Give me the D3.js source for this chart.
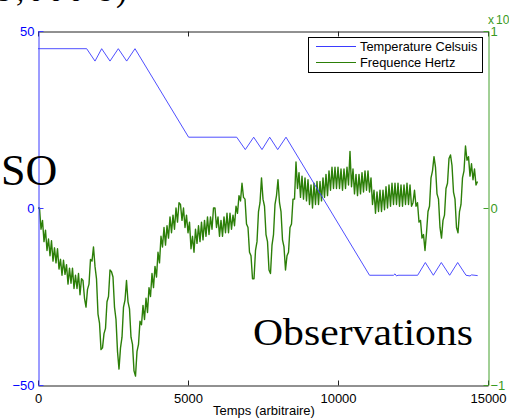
<!DOCTYPE html>
<html>
<head>
<meta charset="utf-8">
<script src="https://cdn.jsdelivr.net/npm/d3@7"></script>
<style>
  html, body { margin: 0; padding: 0; background: #fff; }
  svg { display: block; }
</style>
</head>
<body>
<svg id="chart" width="509" height="418"></svg>
<script>
// Axis ticks
const xTicks = [0, 5000, 10000, 15000];
const tempTicks = [-50, 0, 50];
const freqTicks = [-1, 0, 1];

// Temperature (Celsius): vertices of the set-point profile
const tempTime  = [0, 1622, 1900, 2122, 2400, 2677, 2956, 3233, 5020,
                   6623, 6910, 7190, 7467, 7723, 7990, 8267, 11050,
                   11850, 11900, 11950, 12000, 12655, 12911, 13178, 13444,
                   13722, 13989, 14267, 14400, 14450, 14656];
const tempValue = [45, 45, 41.5, 45, 41.5, 45, 41.5, 45, 20,
                   20, 16.5, 20, 16.5, 20, 16.5, 20, -19,
                   -19, -18.6, -19.2, -19, -19, -15.4, -19, -15.4,
                   -19, -15.4, -19, -19.2, -18.9, -19.1];

// Frequency (Hertz, x 10^4): one sample every 50 time units from t = 0
const freqStart = 0;
const freqStep = 50;
const freqValue = [
  0.00, 0.00, -0.12, -0.07, -0.19, -0.125, -0.24, -0.175, -0.27, -0.185,
  -0.30, -0.225, -0.31, -0.23, -0.345, -0.29, -0.38, -0.295, -0.375, -0.32,
  -0.43, -0.34, -0.425, -0.34, -0.455, -0.38, -0.455, -0.37, -0.49, -0.40,
  -0.41, -0.51, -0.56, -0.46, -0.43, -0.29, -0.30, -0.22, -0.33, -0.40,
  -0.60, -0.65, -0.80, -0.79, -0.71, -0.68, -0.53, -0.50, -0.35, -0.36,
  -0.39, -0.56, -0.63, -0.81, -0.91, -0.79, -0.73, -0.56, -0.52, -0.41,
  -0.53, -0.57, -0.73, -0.77, -0.92, -0.95, -0.81, -0.77, -0.64, -0.66,
  -0.55, -0.63, -0.51, -0.59, -0.45, -0.50, -0.37, -0.45, -0.33, -0.39,
  -0.25, -0.31, -0.16, -0.22, -0.11, -0.21, -0.10, -0.17, -0.05, -0.14,
  -0.04, -0.12, 0.00, -0.08, 0.03, 0.02, -0.07, 0.00, -0.11, -0.04,
  -0.14, -0.08, -0.23, -0.16, -0.25, -0.12, -0.20, -0.10, -0.19, -0.08,
  -0.18, -0.07, -0.16, -0.05, -0.15, -0.05, -0.12, 0.00, 0.00, -0.11,
  -0.05, -0.16, -0.07, -0.16, -0.05, -0.14, -0.03, -0.14, -0.03, -0.12,
  -0.04, -0.10, 0.01, -0.03, 0.07, 0.04, 0.14, 0.06, 0.05, -0.09,
  -0.11, -0.25, -0.27, -0.40, -0.40, -0.24, -0.19, -0.02, 0.03, 0.17,
  0.05, 0.01, -0.15, -0.19, -0.35, -0.37, -0.21, -0.15, 0.02, 0.07,
  0.16, 0.03, -0.02, -0.18, -0.22, -0.35, -0.27, -0.25, -0.11, -0.09,
  0.05, 0.05, 0.26, 0.11, 0.20, 0.06, 0.18, 0.05, 0.17, 0.04,
  0.16, 0.02, 0.13, 0.00, 0.14, 0.02, 0.15, 0.02, 0.15, 0.04,
  0.17, 0.06, 0.19, 0.07, 0.21, 0.10, 0.23, 0.11, 0.23, 0.11,
  0.23, 0.11, 0.22, 0.10, 0.22, 0.11, 0.23, 0.13, 0.32, 0.12,
  0.22, 0.08, 0.19, 0.07, 0.19, 0.08, 0.20, 0.09, 0.21, 0.10,
  0.21, 0.09, 0.17, 0.02, 0.10, -0.03, 0.09, -0.02, 0.10, -0.02,
  0.10, -0.01, 0.12, 0.00, 0.13, 0.01, 0.14, 0.02, 0.14, 0.02,
  0.14, 0.01, 0.13, 0.01, 0.13, 0.02, 0.14, 0.02, 0.13, 0.01,
  0.03, 0.10, 0.01, 0.03, -0.08, -0.07, -0.17, -0.15, -0.24, -0.14,
  -0.02, 0.01, 0.17, 0.21, 0.29, 0.23, 0.08, 0.05, -0.11, -0.17,
  -0.07, -0.04, 0.11, 0.14, 0.28, 0.30, 0.24, 0.09, 0.05, -0.11,
  -0.14, -0.02, 0.02, 0.17, 0.21, 0.35, 0.27, 0.29, 0.18, 0.25,
  0.16, 0.22, 0.13, 0.15
];

const seriesNames = ["Temperature Celsuis", "Frequence Hertz"];
const xLabel = "Temps (arbitraire)";

// ---- layout ----
const svg = d3.select("#chart");
const plot = { left: 38, right: 488, top: 31, bottom: 385 };
const BLUE = "#0000ff", BLUE_LINE = "#3b3bff";
const GREEN_LINE = "#2c7f08", GREEN_AXIS = "#45a02c", GREEN_TEXT = "#3a9a22";
const sans = "'Liberation Sans', Arial, Helvetica, sans-serif";
const serif = "'Liberation Serif', 'Times New Roman', serif";

svg.append("rect").attr("width", 509).attr("height", 418).attr("fill", "#fff");

const x = d3.scaleLinear().domain([0, 15000]).range([plot.left, plot.right]);
const yT = d3.scaleLinear().domain([-50, 50]).range([plot.bottom, plot.top]);
const yF = d3.scaleLinear().domain([-1, 1]).range([plot.bottom, plot.top]);

svg.append("clipPath").attr("id", "plotClip")
  .append("rect")
  .attr("x", plot.left).attr("y", plot.top)
  .attr("width", plot.right - plot.left).attr("height", plot.bottom - plot.top);

const data = svg.append("g").attr("clip-path", "url(#plotClip)");

// frequency trace
const freqPts = freqValue.map((v, i) => [freqStart + i * freqStep, v]);
data.append("path")
  .datum(freqPts)
  .attr("fill", "none")
  .attr("stroke", GREEN_LINE)
  .attr("stroke-width", 1.4)
  .attr("stroke-linejoin", "round")
  .attr("d", d3.line().x(d => x(d[0])).y(d => yF(d[1])));

// temperature profile
const tempPts = tempTime.map((t, i) => [t, tempValue[i]]);
data.append("path")
  .datum(tempPts)
  .attr("fill", "none")
  .attr("stroke", BLUE_LINE)
  .attr("stroke-width", 0.9)
  .attr("d", d3.line().x(d => x(d[0])).y(d => yT(d[1])));

// ---- axes ----
function styleAxis(g, color, textColor) {
  g.select(".domain").attr("stroke", color);
  g.selectAll(".tick line").attr("stroke", color);
  g.selectAll(".tick text")
    .attr("fill", textColor)
    .attr("font-family", sans)
    .attr("font-size", 13);
}

const xAxisBottom = svg.append("g")
  .attr("transform", `translate(0,${plot.bottom + 0.5})`)
  .call(d3.axisBottom(x).tickValues(xTicks).tickFormat(d3.format("d"))
        .tickSizeInner(-5).tickSizeOuter(0).tickPadding(8));
styleAxis(xAxisBottom, "#222", "#000");

const xAxisTop = svg.append("g")
  .attr("transform", `translate(0,${plot.top + 0.5})`)
  .call(d3.axisTop(x).tickValues(xTicks).tickFormat("")
        .tickSizeInner(-5).tickSizeOuter(0));
styleAxis(xAxisTop, "#222", "#000");

const yAxisLeft = svg.append("g")
  .attr("transform", `translate(${plot.left + 0.5},0)`)
  .call(d3.axisLeft(yT).tickValues(tempTicks).tickFormat(d3.format("d"))
        .tickSizeInner(-5).tickSizeOuter(0).tickPadding(4));
styleAxis(yAxisLeft, BLUE_LINE, BLUE);

const yAxisRight = svg.append("g")
  .attr("transform", `translate(${plot.right + 0.5},0)`)
  .call(d3.axisRight(yF).tickValues(freqTicks).tickFormat(d3.format("d"))
        .tickSizeInner(-5).tickSizeOuter(0).tickPadding(2));
styleAxis(yAxisRight, GREEN_AXIS, GREEN_TEXT);

// right-axis multiplier
const mult = svg.append("text")
  .attr("y", 24)
  .attr("fill", GREEN_TEXT)
  .attr("font-family", sans)
  .attr("font-size", 12);
mult.append("tspan").attr("x", 488).text("x");
mult.append("tspan").attr("x", 496).text("10");
mult.append("tspan").attr("dy", -5).attr("font-size", 9).text("4");

// x-axis title
svg.append("text")
  .attr("x", (plot.left + plot.right) / 2 + 1)
  .attr("y", 415)
  .attr("text-anchor", "middle")
  .attr("font-family", sans)
  .attr("font-size", 13)
  .attr("fill", "#000")
  .text(xLabel);

// ---- legend ----
const legend = svg.append("g");
legend.append("rect")
  .attr("x", 308.5).attr("y", 37.5).attr("width", 174).attr("height", 35)
  .attr("fill", "#fff").attr("stroke", "#000").attr("stroke-width", 1);
[[BLUE_LINE, 46], [GREEN_LINE, 62]].forEach(([c, yy], i) => {
  legend.append("line")
    .attr("x1", 316).attr("x2", 356).attr("y1", yy + 0.5).attr("y2", yy + 0.5)
    .attr("stroke", c).attr("stroke-width", 1);
  legend.append("text")
    .attr("x", 360).attr("y", yy + 4.5)
    .attr("font-family", sans).attr("font-size", 12.8).attr("fill", "#000")
    .text(seriesNames[i]);
});

// ---- surrounding page text ----
svg.append("text")
  .attr("x", -4).attr("y", 1)
  .attr("font-family", serif).attr("font-size", 33).attr("fill", "#000")
  .attr("textLength", 131).attr("lengthAdjust", "spacing")
  .text("5,000 s)");

svg.append("text")
  .attr("x", 1).attr("y", 185)
  .attr("font-family", serif).attr("font-size", 44).attr("fill", "#000")
  .text("SO");

svg.append("text")
  .attr("x", 253).attr("y", 345)
  .attr("font-family", serif).attr("font-size", 37).attr("fill", "#000")
  .attr("textLength", 220).attr("lengthAdjust", "spacingAndGlyphs")
  .text("Observations");
</script>
</body>
</html>
